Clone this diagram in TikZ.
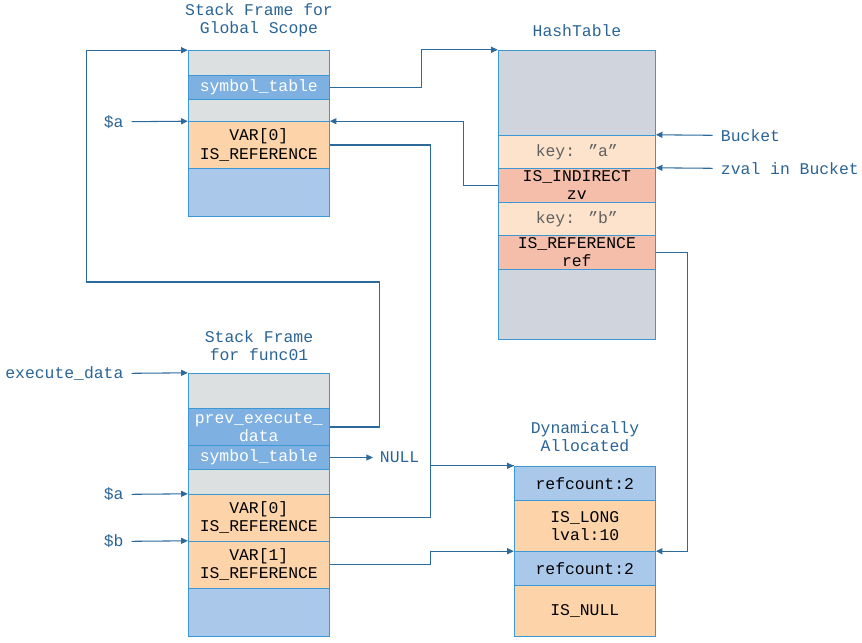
\documentclass[tikz,border=0pt]{standalone}
\usepackage{fontspec}
\setmainfont[Ligatures={}]{Liberation Mono}
\usetikzlibrary{arrows.meta}
\definecolor{edge}{HTML}{3C97D5}
\definecolor{wire}{HTML}{2D6A9C}
\definecolor{ink}{HTML}{2A6496}
\definecolor{cgray}{HTML}{DCE0E1}
\definecolor{csym}{HTML}{7EB0E1}
\definecolor{corange}{HTML}{FDD4A9}
\definecolor{cblue}{HTML}{AAC9EA}
\definecolor{hgray}{HTML}{D0D5DD}
\definecolor{hkey}{HTML}{FDE3CB}
\definecolor{hval}{HTML}{F4BEAA}
\newcommand\dq{\char34\relax}
\begin{document}
\begin{tikzpicture}[x=0.75pt,y=-0.75pt,
  font=\fontsize{12.3}{13.6}\selectfont,
  cell/.style={draw=edge,line width=0.75pt,inner sep=0pt,align=center,
    minimum width=#1*0.75pt},
  cellh/.style={minimum height=#1*0.75pt},
  title/.style={text=ink,align=center,inner sep=0pt},
  lbl/.style={text=ink,inner ysep=0pt,inner xsep=6pt},
  wireline/.style={draw=wire,line width=0.8pt},
  conn/.style={wireline,-{Triangle[length=5pt,width=4.5pt]}}]
\useasboundingbox (0,0) rectangle (862,642);

% ---- stack frame for the global scope ----
\node[title] (tg) at (259,20) {Stack Frame for\\Global Scope};
\node[cell=141,cellh=25,fill=cgray] (g0) at (258.8,63.2) {};
\node[cell=141,cellh=23.6,fill=csym,text=white] (gsym) at (258.8,87.5) {symbol\_table};
\node[cell=141,cellh=22.4,fill=cgray] (g1) at (258.8,110.5) {};
\node[cell=141,cellh=46.6,fill=corange] (gvar) at (258.8,145) {VAR[0]\\IS\_REFERENCE};
\node[cell=141,cellh=47.7,fill=cblue] (gbot) at (258.8,192.2) {};

% ---- hash table ----
\node[title] (th) at (577,31) {HashTable};
\node[cell=157,cellh=85,fill=hgray] (h0) at (576.8,92.8) {};
\node[cell=157,cellh=33,fill=hkey,text=black!62] (hka) at (576.8,151.8) {key: \dq a\dq};
\node[cell=157,cellh=34,fill=hval] (hza) at (576.8,185.3) {IS\_INDIRECT\\zv};
\node[cell=157,cellh=33,fill=hkey,text=black!62] (hkb) at (576.8,218.8) {key: \dq b\dq};
\node[cell=157,cellh=34,fill=hval] (hrb) at (576.8,252.3) {IS\_REFERENCE\\ref};
\node[cell=157,cellh=69.7,fill=hgray] (h1) at (576.8,304.2) {};

% ---- stack frame for func01 ----
\node[title] (tf) at (259,346) {Stack Frame\\for func01};
\node[cell=141,cellh=35,fill=cgray] (f0) at (258.8,390.8) {};
\node[cell=141,cellh=37.4,fill=csym,text=white] (fprev) at (258.8,427) {prev\_execute\_\\data};
\node[cell=141,cellh=23.6,fill=csym,text=white] (fsym) at (258.8,457.5) {symbol\_table};
\node[cell=141,cellh=25,fill=cgray] (f1) at (258.8,481.8) {};
\node[cell=141,cellh=47,fill=corange] (fv0) at (258.8,517.8) {VAR[0]\\IS\_REFERENCE};
\node[cell=141,cellh=47,fill=corange] (fv1) at (258.8,564.8) {VAR[1]\\IS\_REFERENCE};
\node[cell=141,cellh=47.7,fill=cblue] (fbot) at (258.8,612.2) {};

% ---- dynamically allocated values ----
\node[title] (td) at (585,437) {Dynamically\\Allocated};
\node[cell=141,cellh=34,fill=cblue] (d0) at (584.8,483.3) {refcount:2};
\node[cell=141,cellh=51.4,fill=corange] (d1) at (584.8,526) {IS\_LONG\\lval:10};
\node[cell=141,cellh=33.6,fill=cblue] (d2) at (584.8,568.5) {refcount:2};
\node[cell=141,cellh=51,fill=corange] (d3) at (584.8,610.8) {IS\_NULL};

% ---- side labels ----
\node[lbl,anchor=east] (ga) at (131.7,121.7) {\$a};
\node[lbl,anchor=east] (ed) at (131.7,373.3) {execute\_data};
\node[lbl,anchor=east] (fa) at (131.7,494.3) {\$a};
\node[lbl,anchor=east] (fb) at (131.7,541.3) {\$b};
\node[lbl,anchor=west] (bk) at (712.7,135.3) {Bucket};
\node[lbl,anchor=west] (zb) at (712.7,168.3) {zval in Bucket};
\node[lbl,anchor=west,inner xsep=5pt] (null) at (373,457.5) {NULL};

\draw[conn] (ga.east) -- (gvar.north west);
\draw[conn] (ed.east) -- (f0.north west);
\draw[conn] (fa.east) -- (fv0.north west);
\draw[conn] (fb.east) -- (fv1.north west);
\draw[conn] (bk.west) -- (hka.north east);
\draw[conn] (zb.west) -- (hza.north east);
\draw[conn] (fsym.east) -- (null.west);

% ---- pointers ----
\coordinate (back) at (86.7,282);
\draw[conn] (gsym.east) -- ++(92,0) |- (h0.north west);
\draw[conn] (hza.west) -- ++(-34,0) |- (gvar.north east);
\draw[conn] (gvar.east) -- ++(101,0) |- (d0.north west);
\draw[wireline] (fv0.east) -- ++(101,0) |- (d0.north west);
\draw[conn] (fv1.east) -- ++(101,0) |- (d2.north west);
\draw[conn] (hrb.east) -- ++(32,0) |- (d2.north east);
\draw[conn] (fprev.east) -- ++(50,0) |- (back) |- (g0.north west);
\end{tikzpicture}
\end{document}
